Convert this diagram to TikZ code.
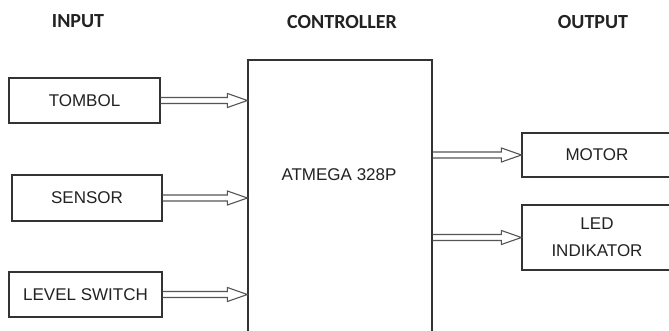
\documentclass[tikz,border=0pt]{standalone}
\usepackage{fontspec}
\setmainfont{Liberation Sans}
\newfontfamily\hdrfont{Carlito}
\usetikzlibrary{calc}
\definecolor{ink}{HTML}{222222}
\definecolor{edge}{HTML}{333333}
\definecolor{arr}{HTML}{555555}
\begin{document}
\begin{tikzpicture}[x=1pt,y=-1pt,
  hdr/.style={font=\hdrfont\bfseries\fontsize{20}{22}\selectfont, text=ink, inner sep=0pt},
  blk/.style={draw=edge, line width=1.2pt, minimum width=#1, minimum height=45pt, inner sep=0pt,
              font=\fontsize{17}{27}\selectfont, text=ink, align=center},
  blk/.default=152pt,
  lbl/.style={font=\fontsize{17}{20}\selectfont, text=ink, inner sep=0pt},
  fatarrow/.style={draw=arr, line width=1.1pt, line join=miter,
    to path={let \p1=(\tikztostart), \p2=(\tikztotarget) in
      (\x1,\y1+3pt) -- (\x2-20pt,\y1+3pt) -- (\x2-20pt,\y1+7pt) -- (\x2,\y1)
      -- (\x2-20pt,\y1-7pt) -- (\x2-20pt,\y1-3pt) -- (\x1,\y1-3pt)}}]
\clip (0,0) rectangle (669,331);
\fill[white] (0,0) rectangle (669,331);
% headers
\node[hdr] (hin) at (78,21) {INPUT};
\node[hdr] (hctrl) at (342,22) {CONTROLLER};
\node[hdr] (hout) at (593,22) {OUTPUT};
% controller
\node[draw=edge, line width=1.2pt, minimum width=184pt, minimum height=300pt, inner sep=0pt] (ctrl) at (340,210) {};
\node[lbl] (chip) at (339,175) {ATMEGA 328P};
% inputs
\node[blk=151pt, minimum height=45pt] (tombol) at (84.5,100.5) {TOMBOL};
\node[blk=150pt, minimum height=46pt] (sensor) at (87,198) {SENSOR};
\node[blk=153pt, minimum height=45pt] (level) at (85.5,294.5) {LEVEL SWITCH};
% outputs
\node[blk=150pt, minimum height=44pt] (motor) at (597,155) {MOTOR};
\node[blk=150pt, minimum height=65pt] (led) at (597,237.5) {LED\\INDIKATOR};
% arrows
\draw[fatarrow] (tombol.east) to ($(tombol.east -| ctrl.west)+(0,1.5)$);
\draw[fatarrow] (sensor.east) to (sensor.east -| ctrl.west);
\draw[fatarrow] (level.east) to (level.east -| ctrl.west);
\draw[fatarrow] (ctrl.east |- motor.west) to (motor.west);
\draw[fatarrow] (ctrl.east |- led.west) to (led.west);
\end{tikzpicture}
\end{document}
